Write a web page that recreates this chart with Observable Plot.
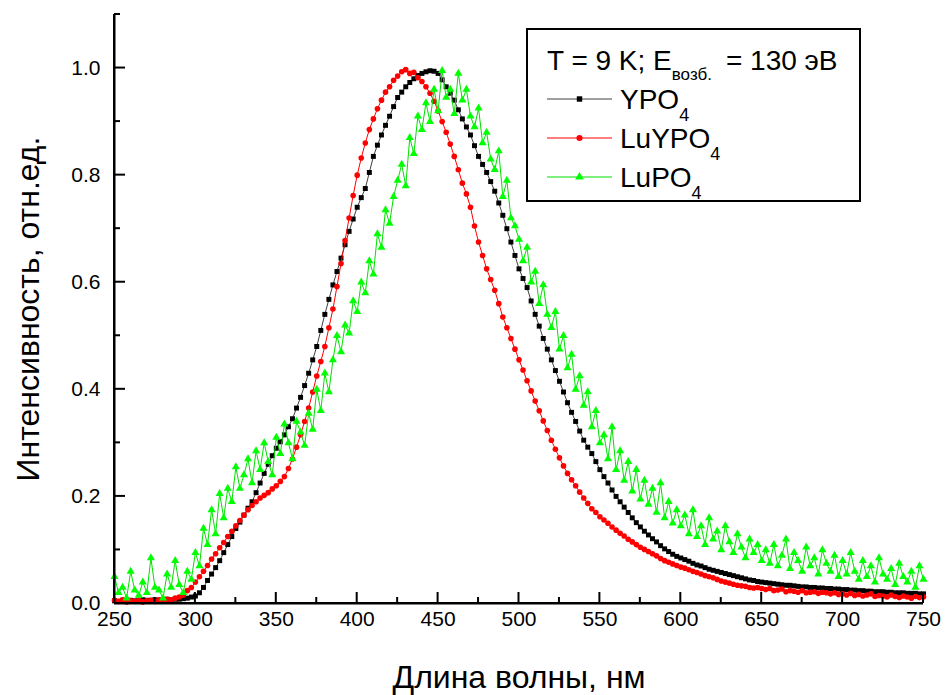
<!DOCTYPE html>
<html><head><meta charset="utf-8">
<script src="https://cdn.jsdelivr.net/npm/d3@7"></script>
<script src="https://cdn.jsdelivr.net/npm/@observablehq/plot@0.6"></script>
<style>body{margin:0;background:#fff} #chart{position:relative;width:946px;height:695px}</style>
</head><body><div id="chart"></div>
<script>
// wavelength grid: 250 … 750 nm, 2.5 nm step
const wlStart = 250, wlStep = 2.5;
const ypo4 = [
.005,.004,.006,.005,.006,.005,.006,.007,.006,.006,.007,.006,.007,.008,.007,.008,.008,.009,.010,.012,.014,
.020,.030,.043,.055,.067,.080,.095,.110,.125,.140,.152,.165,.178,.190,.207,.225,.243,.260,.276,.290,
.302,.315,.330,.345,.365,.385,.407,.430,.455,.480,.510,.540,.568,.595,.620,.645,.670,.695,.718,.740,
.758,.775,.805,.835,.856,.875,.893,.910,.928,.945,.955,.965,.973,.980,.986,.990,.993,.995,.994,.990,
.978,.965,.953,.940,.922,.905,.890,.875,.855,.835,.820,.805,.788,.770,.748,.725,.700,.675,.650,.625,
.607,.590,.565,.540,.518,.495,.475,.455,.435,.415,.395,.375,.357,.340,.322,.305,.292,.280,.265,.250,
.237,.225,.212,.200,.190,.180,.170,.160,.151,.143,.135,.128,.121,.115,.108,.102,.097,.092,.088,.085,
.082,.079,.075,.072,.070,.067,.064,.062,.060,.058,.056,.054,.052,.050,.048,.046,.044,.043,.041,.040,
.039,.038,.037,.036,.035,.034,.034,.033,.032,.031,.031,.030,.030,.029,.029,.028,.028,.027,.027,.026,
.026,.025,.025,.024,.024,.023,.023,.022,.022,.022,.021,.021,.020,.020,.020,.019,.019,.019,.018,.018];
const luypo4 = [
.006,.004,.007,.003,.005,.004,.006,.003,.005,.006,.004,.007,.006,.008,.007,.010,.012,.016,.024,.030,.040,
.050,.060,.071,.083,.093,.104,.114,.125,.135,.145,.155,.165,.175,.183,.190,.197,.202,.207,.214,.220,
.228,.237,.252,.270,.292,.315,.340,.365,.395,.425,.452,.480,.515,.550,.592,.635,.678,.720,.762,.800,
.832,.860,.885,.905,.924,.940,.955,.965,.977,.985,.993,.997,.990,.992,.982,.975,.965,.953,.938,.920,
.900,.880,.858,.835,.810,.785,.765,.740,.705,.675,.650,.625,.605,.585,.560,.535,.515,.495,.475,.455,
.436,.416,.397,.378,.360,.341,.323,.305,.288,.272,.257,.243,.231,.220,.208,.197,.187,.177,.170,.162,
.156,.150,.143,.137,.131,.126,.120,.115,.110,.105,.101,.097,.093,.089,.084,.080,.077,.074,.071,.068,
.066,.063,.060,.058,.055,.052,.050,.048,.045,.042,.040,.038,.036,.034,.033,.032,.030,.029,.030,.028,
.026,.028,.024,.025,.027,.022,.024,.023,.021,.024,.020,.021,.022,.019,.021,.020,.018,.020,.017,.018,
.016,.019,.015,.017,.014,.016,.018,.013,.015,.014,.012,.016,.013,.011,.014,.012,.010,.013,.011,.012];
const lupo4 = [
.050,.020,.030,.010,.060,.025,.015,.040,.020,.085,.030,.025,.010,.055,.030,.080,.035,.020,.060,.045,.095,
.070,.140,.110,.175,.130,.205,.160,.215,.190,.255,.215,.240,.270,.225,.285,.250,.300,.265,.240,.310,
.280,.335,.300,.270,.340,.320,.295,.355,.325,.400,.360,.430,.395,.455,.500,.470,.520,.505,.565,.545,
.600,.580,.640,.615,.690,.665,.735,.710,.760,.790,.820,.780,.870,.840,.910,.885,.935,.900,.960,.920,
.995,.945,.960,.915,.990,.940,.960,.910,.890,.925,.860,.880,.830,.810,.845,.760,.790,.720,.705,.680,
.640,.665,.600,.620,.560,.595,.540,.515,.545,.475,.500,.440,.465,.400,.425,.370,.395,.330,.360,.300,
.315,.270,.330,.250,.285,.230,.265,.210,.250,.195,.230,.185,.215,.170,.225,.160,.190,.150,.175,.145,
.165,.130,.175,.125,.145,.110,.160,.120,.135,.100,.145,.115,.095,.130,.105,.085,.120,.095,.110,.080,
.100,.075,.110,.070,.090,.120,.065,.095,.080,.060,.105,.070,.085,.055,.100,.075,.060,.090,.050,.080,
.055,.095,.060,.045,.080,.050,.070,.040,.085,.055,.045,.065,.035,.075,.050,.040,.060,.030,.070,.045];

const xTicks = [250,300,350,400,450,500,550,600,650,700,750];
const xMinor = [275,325,375,425,475,525,575,625,675,725];
const yTicks = [0,0.2,0.4,0.6,0.8,1.0];
const yMinor = [0.1,0.3,0.5,0.7,0.9,1.1];
const xTitle = "Длина волны, нм";
const yTitle = "Интенсивность, отн.ед.";
const legendTitle = ["T = 9 K; E", "возб.", "= 130 эВ"];

const series = [
  {name: "YPO", sub: "4", values: ypo4, fill: "#000000", line: "#404040", symbol: "square", r: 2.8, d3sym: d3.symbolSquare},
  {name: "LuYPO", sub: "4", values: luypo4, fill: "#ff0000", line: "#ff0000", symbol: "circle", r: 2.8, d3sym: d3.symbolCircle},
  {name: "LuPO", sub: "4", values: lupo4, fill: "#00ff00", line: "#00e000", symbol: "triangle", r: 3.0, d3sym: d3.symbolTriangle}
];
const rows = s => s.values.map((v, i) => ({wl: wlStart + i * wlStep, v}));

const W = 946, H = 695, mL = 114, mR = 23, mT = 14, mB = 92;
const major = 11, minor = 6;
const font = "Liberation Sans, Arial, sans-serif";

const marks = [];
for (const s of series) {
  marks.push(Plot.line(rows(s), {x: "wl", y: "v", stroke: s.line, strokeWidth: 1}));
  marks.push(Plot.dot(rows(s), {x: "wl", y: "v", symbol: s.symbol, r: s.r, fill: s.fill, stroke: "none"}));
}
marks.push(
  Plot.ruleY([0], {stroke: "black", strokeWidth: 2}),
  Plot.ruleX([250], {stroke: "black", strokeWidth: 2}),
  Plot.axisX(xTicks, {tickSize: 0, tickPadding: 8, fontSize: 21, label: null, tickFormat: d3.format("d")}),
  Plot.axisY(yTicks, {tickSize: 0, tickPadding: 14, fontSize: 21, label: null, tickFormat: d3.format(".1f")}),
  Plot.text([xTitle], {frameAnchor: "bottom", dy: 74, text: d => d, fontSize: 32, lineAnchor: "middle"}),
  Plot.text([yTitle], {frameAnchor: "left", dx: -86, rotate: -90, textAnchor: "middle", text: d => d, fontSize: 32, lineAnchor: "middle"})
);

const svg = Plot.plot({
  width: W, height: H,
  marginLeft: mL, marginRight: mR, marginTop: mT, marginBottom: mB,
  style: {fontFamily: font, color: "black", background: "white", overflow: "visible"},
  x: {domain: [250, 750]},
  y: {domain: [0, 1.1]},
  marks
});

// axis lines and inward ticks, positioned through Plot's own scales
const sx = svg.scale("x"), sy = svg.scale("y");
const X = v => sx.apply(v), Y = v => sy.apply(v);
const ax = d3.select(svg).append("g").attr("stroke", "black").attr("stroke-width", 2);
ax.append("line").attr("x1", X(250)).attr("x2", X(750)).attr("y1", Y(0)).attr("y2", Y(0));
ax.append("line").attr("x1", X(250)).attr("x2", X(250)).attr("y1", Y(0)).attr("y2", Y(1.1));
for (const [vals, len] of [[xTicks, major], [xMinor, minor]])
  for (const v of vals) ax.append("line").attr("x1", X(v)).attr("x2", X(v)).attr("y1", Y(0)).attr("y2", Y(0) - len);
for (const [vals, len] of [[yTicks, major], [yMinor, minor]])
  for (const v of vals) ax.append("line").attr("x1", X(250)).attr("x2", X(250) + len).attr("y1", Y(v)).attr("y2", Y(v));

// legend box
const g = d3.select(svg).append("g").attr("font-family", font).attr("fill", "black").attr("text-anchor", "start");
g.append("rect").attr("x", 527).attr("y", 29).attr("width", 333).attr("height", 172)
  .attr("fill", "white").attr("stroke", "black").attr("stroke-width", 2);
const t = g.append("text").attr("x", 547).attr("y", 70).attr("font-size", 28);
t.append("tspan").text(legendTitle[0]);
t.append("tspan").attr("dy", 10).attr("font-size", 17).text(legendTitle[1]);
t.append("tspan").attr("dy", -10).attr("dx", 14).text(legendTitle[2]);
series.forEach((s, i) => {
  const cy = 99 + i * 39;
  g.append("line").attr("x1", 547).attr("x2", 612).attr("y1", cy).attr("y2", cy)
    .attr("stroke", s.line).attr("stroke-width", 1.2);
  g.append("path").attr("transform", `translate(579.5,${cy})`)
    .attr("d", d3.symbol(s.d3sym, Math.PI * s.r * s.r * 1.2)()).attr("fill", s.fill);
  const tx = g.append("text").attr("x", 620).attr("y", cy + 10).attr("font-size", 28);
  tx.append("tspan").text(s.name);
  tx.append("tspan").attr("dy", 12).attr("font-size", 18).text(s.sub);
});

document.getElementById("chart").append(svg);
</script>
</body></html>
